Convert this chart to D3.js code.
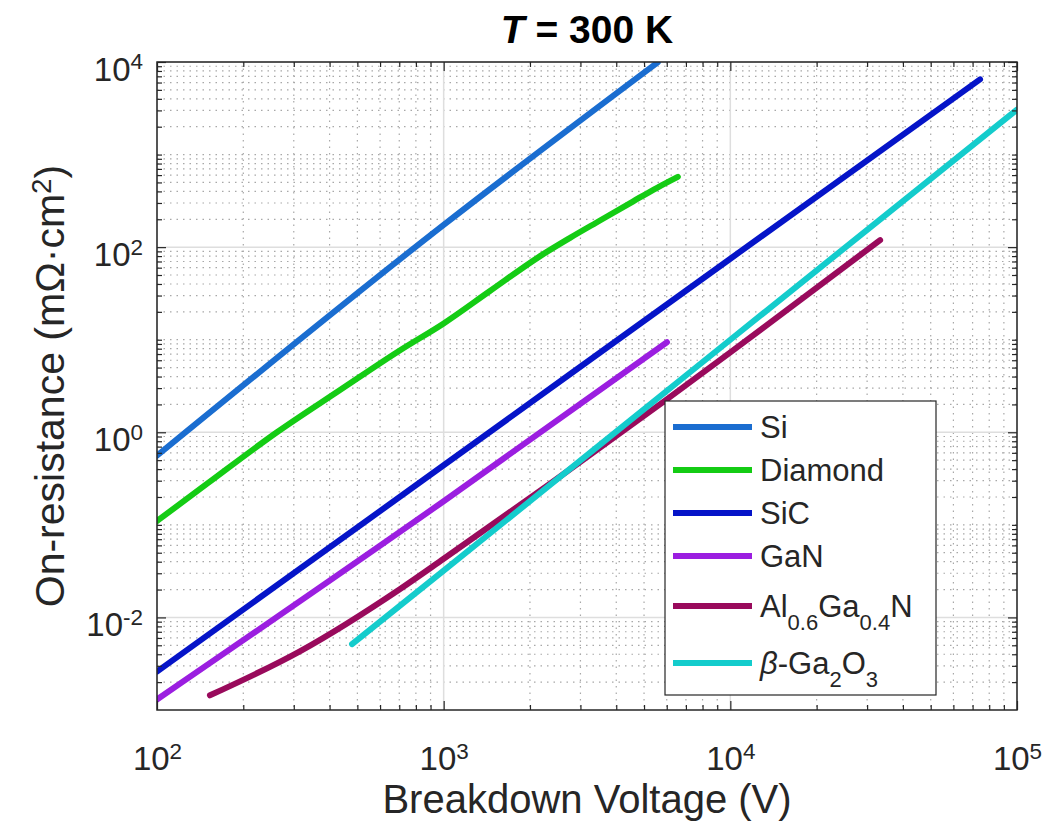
<!DOCTYPE html>
<html>
<head>
<meta charset="utf-8">
<script src="https://cdn.jsdelivr.net/npm/d3@7"></script>
<style>
body { margin:0; background:#fff; }
text { font-family:"Liberation Sans", Arial, Helvetica, sans-serif; fill:#262626; }
</style>
</head>
<body>
<script>
// values: breakdown voltage (V) vs on-resistance (mOhm cm^2)
var siV      = [100, 1000, 5580];
var siR      = [0.56, 174, 9900];
var diamondV = [100, 150, 262, 435, 705, 1000, 1450, 2170, 2760, 3510, 4570, 5550, 6560];
var diamondR = [0.11, 0.28, 1.0, 2.86, 7.7, 15, 33.6, 80, 126, 194, 311, 438, 575];
var sicV     = [100, 1000, 10000, 74300];
var sicR     = [0.0026, 0.44, 75, 6500];
var ganV     = [100, 1000, 6010];
var ganR     = [0.0013, 0.18, 9.4];
var alganV   = [153, 315, 705, 1000, 2350, 5920, 10000, 33300];
var alganR   = [0.00144, 0.0043, 0.0203, 0.043, 0.278, 2.2, 7.3, 119];
var ga2o3V   = [479, 1000, 10000, 100000];
var ga2o3R   = [0.00514, 0.032, 10, 3060];

var names  = ['Si', 'Diamond', 'SiC', 'GaN', 'AlGaN', 'Ga2O3'];
var colors = ['#1a6dd0', '#14cc14', '#0514c8', '#9b1ee0', '#990a5c', '#14cccc'];

var xDomain = [1e2, 1e5];
var yDomain = [1e-3, 1e4];
var xMajor  = [1e2, 1e3, 1e4, 1e5];
var yMajor  = [1e-2, 1e0, 1e2, 1e4];

var title  = '300 K';
var xLabel = 'Breakdown Voltage (V)';

var series = [
	{ v: siV, r: siR }, { v: diamondV, r: diamondR }, { v: sicV, r: sicR },
	{ v: ganV, r: ganR }, { v: alganV, r: alganR }, { v: ga2o3V, r: ga2o3R }
].map(function(s, i) {
	return { name: names[i], c: colors[i], pts: s.v.map(function(v, j) { return [v, s.r[j]]; }) };
});

var W = 1047, H = 835;
var pl = 157, pt = 62, pr = 1017, pb = 710;

var svg = d3.select('body').append('svg').attr('width', W).attr('height', H);
var x = d3.scaleLog().domain(xDomain).range([pl, pr]);
var y = d3.scaleLog().domain(yDomain).range([pb, pt]);

// minor tick/grid values
function minors(lo, hi, majors) {
	var out = [];
	for (var e = Math.log10(lo); e < Math.log10(hi); e++) {
		for (var k = 1; k < 10; k++) {
			var v = k * Math.pow(10, e);
			if (v <= lo || v >= hi) continue;
			if (majors.some(function(m) { return Math.abs(m - v) / m < 1e-9; })) continue;
			out.push(v);
		}
	}
	return out;
}
var xMinor = minors(xDomain[0], xDomain[1], xMajor);
var yMinor = minors(yDomain[0], yDomain[1], yMajor);

// grid
var grid = svg.append('g');
grid.selectAll('.xm').data(xMinor).enter().append('line')
	.attr('x1', x).attr('x2', x).attr('y1', pt).attr('y2', pb)
	.attr('stroke', '#a8a8a8').attr('stroke-width', 1.2).attr('stroke-dasharray', '1.5,5');
grid.selectAll('.ym').data(yMinor).enter().append('line')
	.attr('y1', y).attr('y2', y).attr('x1', pl).attr('x2', pr)
	.attr('stroke', '#a8a8a8').attr('stroke-width', 1.2).attr('stroke-dasharray', '1.5,5');
grid.selectAll('.xM').data(xMajor).enter().append('line')
	.attr('x1', x).attr('x2', x).attr('y1', pt).attr('y2', pb)
	.attr('stroke', '#dedede').attr('stroke-width', 1.5);
grid.selectAll('.yM').data(yMajor).enter().append('line')
	.attr('y1', y).attr('y2', y).attr('x1', pl).attr('x2', pr)
	.attr('stroke', '#dedede').attr('stroke-width', 1.5);

// curves
svg.append('clipPath').attr('id', 'clip').append('rect')
	.attr('x', pl).attr('y', pt).attr('width', pr - pl).attr('height', pb - pt);
var line = d3.line().x(function(d) { return x(d[0]); }).y(function(d) { return y(d[1]); })
	.curve(d3.curveMonotoneX);
svg.append('g').attr('clip-path', 'url(#clip)').selectAll('path').data(series).enter().append('path')
	.attr('d', function(d) { return line(d.pts); })
	.attr('fill', 'none').attr('stroke', function(d) { return d.c; })
	.attr('stroke-width', 6).attr('stroke-linecap', 'round').attr('stroke-linejoin', 'round');

// axes
function pow10(sel) {
	sel.selectAll('.tick text').each(function(d) {
		var t = d3.select(this), e = Math.round(Math.log10(d));
		t.text(null);
		t.append('tspan').text('10');
		t.append('tspan').attr('dy', '-0.5em').attr('font-size', '0.68em').text(e);
	});
}
function styleAxis(g) {
	g.attr('font-size', 33).attr('font-family', null);
	g.select('.domain').remove();
	g.selectAll('.tick line').attr('stroke', '#262626').attr('stroke-width', 1.2);
	g.selectAll('.tick text').attr('fill', '#262626');
}

var axB = svg.append('g').attr('transform', 'translate(0,' + pb + ')')
	.call(d3.axisBottom(x).tickValues(xMajor).tickSizeInner(-9).tickSizeOuter(0).tickPadding(37));
styleAxis(axB); pow10(axB);
svg.append('g').attr('transform', 'translate(0,' + pb + ')')
	.call(d3.axisBottom(x).tickValues(xMinor).tickSize(-5).tickFormat('')).call(styleAxis);
svg.append('g').attr('transform', 'translate(0,' + pt + ')')
	.call(d3.axisTop(x).tickValues(xMajor).tickSize(-9).tickFormat('')).call(styleAxis);
svg.append('g').attr('transform', 'translate(0,' + pt + ')')
	.call(d3.axisTop(x).tickValues(xMinor).tickSize(-5).tickFormat('')).call(styleAxis);

var axL = svg.append('g').attr('transform', 'translate(' + pl + ',0)')
	.call(d3.axisLeft(y).tickValues(yMajor).tickSizeInner(-9).tickSizeOuter(0).tickPadding(14));
styleAxis(axL); pow10(axL);
axL.selectAll('.tick text').attr('dy', '0.55em');
svg.append('g').attr('transform', 'translate(' + pl + ',0)')
	.call(d3.axisLeft(y).tickValues(yMinor).tickSize(-5).tickFormat('')).call(styleAxis);
svg.append('g').attr('transform', 'translate(' + pr + ',0)')
	.call(d3.axisRight(y).tickValues(yMajor).tickSize(-9).tickFormat('')).call(styleAxis);
svg.append('g').attr('transform', 'translate(' + pr + ',0)')
	.call(d3.axisRight(y).tickValues(yMinor).tickSize(-5).tickFormat('')).call(styleAxis);

svg.append('rect').attr('x', pl).attr('y', pt).attr('width', pr - pl).attr('height', pb - pt)
	.attr('fill', 'none').attr('stroke', '#262626').attr('stroke-width', 1.5);

// labels
var tt = svg.append('text').attr('x', (pl + pr) / 2).attr('y', 43).attr('text-anchor', 'middle')
	.attr('font-size', 39).attr('font-weight', 'bold').style('fill', '#000');
tt.append('tspan').attr('font-style', 'italic').text('T');
tt.append('tspan').text(' = ' + title);

svg.append('text').attr('x', (pl + pr) / 2).attr('y', 813).attr('text-anchor', 'middle')
	.attr('font-size', 40).text(xLabel);

var yl = svg.append('text').attr('transform', 'translate(64,' + (pt + pb) / 2 + ') rotate(-90)')
	.attr('text-anchor', 'middle').attr('font-size', 41);
yl.append('tspan').text('On-resistance (m\u03A9\u00B7cm');
yl.append('tspan').attr('dy', '-0.45em').attr('font-size', '0.68em').text('2');
yl.append('tspan').attr('dy', '0.3em').text(')');

// legend
var lg = svg.append('g');
lg.append('rect').attr('x', 665).attr('y', 401).attr('width', 271).attr('height', 294)
	.attr('fill', '#fff').attr('stroke', '#262626').attr('stroke-width', 1.2);
var rowY = [427, 470, 513, 556, 606, 663];
var legendText = [
	[['Si']], [['Diamond']], [['SiC']], [['GaN']],
	[['Al'], ['0.6', 'sub'], ['Ga'], ['0.4', 'sub'], ['N']],
	[['\u03B2', 'it'], ['-Ga'], ['2', 'sub'], ['O'], ['3', 'sub']]
];
series.forEach(function(s, i) {
	var cy = rowY[i];
	lg.append('line').attr('x1', 673).attr('x2', 752).attr('y1', cy).attr('y2', cy)
		.attr('stroke', s.c).attr('stroke-width', 6);
	var t = lg.append('text').attr('x', 760).attr('y', cy + 11).attr('font-size', 31);
	var down = false;
	legendText[i].forEach(function(p) {
		var ts = t.append('tspan').text(p[0]);
		if (p[1] === 'sub') { ts.attr('font-size', 22).attr('dy', 13); down = true; }
		else if (down) { ts.attr('dy', -13); down = false; }
		if (p[1] === 'it') ts.attr('font-style', 'italic');
	});
});
</script>
</body>
</html>
